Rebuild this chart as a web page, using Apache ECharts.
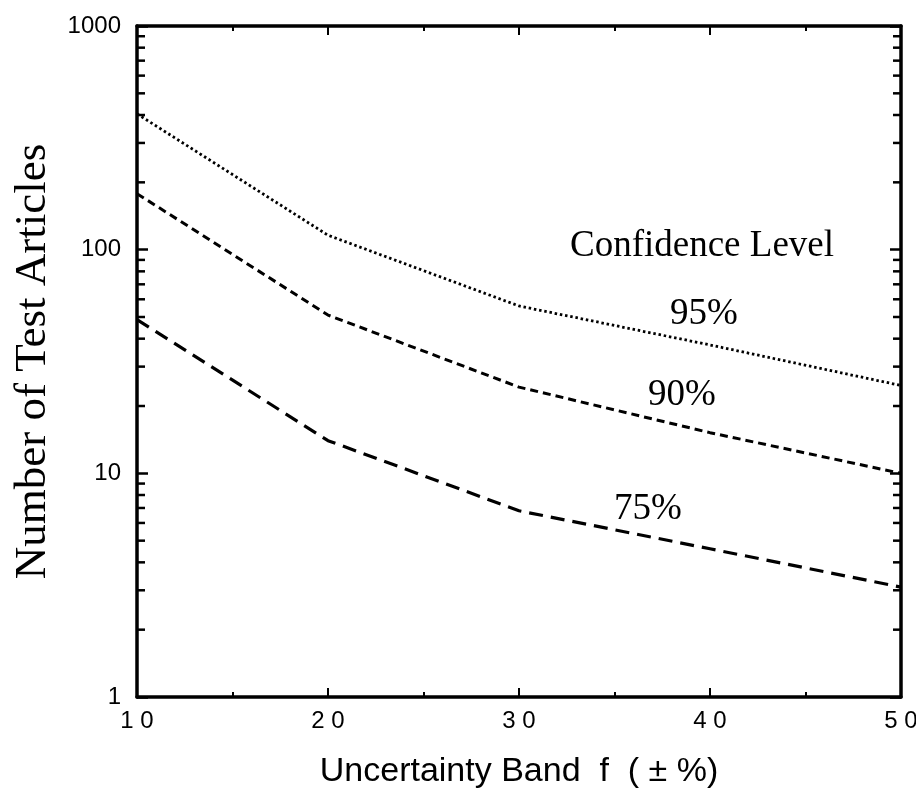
<!DOCTYPE html>
<html>
<head>
<meta charset="utf-8">
<script src="https://cdn.jsdelivr.net/npm/echarts@6/dist/echarts.min.js"></script>
<style>
  html, body { margin: 0; padding: 0; background: #fff; }
  #main { width: 916px; height: 793px; }
</style>
</head>
<body>
<div id="main"></div>
<script>
// x: uncertainty band f (± %)
const bandVals = [10, 20, 30, 40, 50];
// number of test articles per confidence level
const conf95 = [405, 116, 56, 37.5, 24.7];
const conf90 = [178, 51, 24.3, 15.2, 10];
const conf75 = [48.7, 14, 6.8, 4.6, 3.1];
// y axis log minor ticks
const yMinorTicks = [2, 3, 4, 5, 6, 7, 8, 9, 20, 30, 40, 50, 60, 70, 80, 90, 200, 300, 400, 500, 600, 700, 800, 900];

const sans = 'Liberation Sans';
const serif = 'Liberation Serif';

function pairs(ys) {
  return bandVals.map((x, i) => [x, ys[i]]);
}

const axisLineStyle = { color: '#000', width: 3.5 };

const myChart = echarts.init(document.getElementById('main'));
myChart.setOption({
  animation: false,
  backgroundColor: '#fff',
  grid: { left: 137, right: 15, top: 26, bottom: 96, outerBoundsMode: 'none', containLabel: false },
  xAxis: [
    {
      type: 'value',
      min: 10,
      max: 50,
      interval: 10,
      axisLine: { lineStyle: axisLineStyle },
      axisTick: { inside: true, length: 9, lineStyle: { color: '#000', width: 2 } },
      minorTick: { show: true, splitNumber: 2, length: 5, lineStyle: { color: '#000', width: 2 } },
      splitLine: { show: false },
      axisLabel: {
        margin: 12,
        color: '#000',
        fontFamily: sans,
        fontSize: 24,
        formatter: (v) => String(v).split('').join(' '),
      },
      name: 'Uncertainty Band  f  ( ± %)',
      nameLocation: 'middle',
      nameGap: 58,
      nameTextStyle: { color: '#000', fontFamily: sans, fontSize: 34 },
    },
    {
      type: 'value',
      position: 'top',
      min: 10,
      max: 50,
      interval: 10,
      axisLine: { lineStyle: axisLineStyle },
      axisTick: { inside: true, length: 9, lineStyle: { color: '#000', width: 2 } },
      minorTick: { show: true, splitNumber: 2, length: 5, lineStyle: { color: '#000', width: 2 } },
      splitLine: { show: false },
      axisLabel: { show: false },
    },
  ],
  yAxis: [
    {
      type: 'log',
      logBase: 10,
      min: 1,
      max: 1000,
      axisLine: { show: true, lineStyle: axisLineStyle },
      axisTick: { show: true, inside: true, length: 11, lineStyle: { color: '#000', width: 2.5 } },
      splitLine: { show: false },
      axisLabel: {
        margin: 16,
        color: '#000',
        fontFamily: sans,
        fontSize: 24,
        formatter: (v) => String(Math.round(v)),
      },
      name: 'Number of Test Articles',
      nameLocation: 'middle',
      nameGap: 81,
      nameTextStyle: { color: '#000', fontFamily: serif, fontSize: 45 },
    },
    {
      type: 'log',
      logBase: 10,
      min: 1,
      max: 1000,
      position: 'right',
      axisLine: { show: true, lineStyle: axisLineStyle },
      axisTick: { show: true, inside: true, length: 11, lineStyle: { color: '#000', width: 2.5 } },
      splitLine: { show: false },
      axisLabel: { show: false },
    },
  ],
  series: [
    {
      name: 'minor ticks',
      type: 'custom',
      silent: true,
      clip: false,
      data: yMinorTicks.map((v) => [10, v]),
      renderItem: function (params, api) {
        const l = api.coord([10, api.value(1)]);
        const r = api.coord([50, api.value(1)]);
        const st = { stroke: '#000', lineWidth: 2.5 };
        return {
          type: 'group',
          children: [
            { type: 'line', shape: { x1: l[0], y1: l[1], x2: l[0] + 8, y2: l[1] }, style: st },
            { type: 'line', shape: { x1: r[0] - 8, y1: r[1], x2: r[0], y2: r[1] }, style: st },
          ],
        };
      },
    },
    {
      name: '95%',
      type: 'line',
      data: pairs(conf95),
      symbol: 'none',
      lineStyle: { color: '#000', width: 2.8, type: [2.5, 2.8], cap: 'butt' },
    },
    {
      name: '90%',
      type: 'line',
      data: pairs(conf90),
      symbol: 'none',
      lineStyle: { color: '#000', width: 3, type: [8, 5] },
    },
    {
      name: '75%',
      type: 'line',
      data: pairs(conf75),
      symbol: 'none',
      lineStyle: { color: '#000', width: 3.2, type: [14, 8] },
    },
  ],
  graphic: [
    {
      type: 'text',
      left: 570,
      top: 228,
      style: { text: 'Confidence Level', fill: '#000', font: '37px "Liberation Serif"' },
    },
    {
      type: 'text',
      left: 670,
      top: 296,
      style: { text: '95%', fill: '#000', font: '37px "Liberation Serif"' },
    },
    {
      type: 'text',
      left: 648,
      top: 377,
      style: { text: '90%', fill: '#000', font: '37px "Liberation Serif"' },
    },
    {
      type: 'text',
      left: 614,
      top: 491,
      style: { text: '75%', fill: '#000', font: '37px "Liberation Serif"' },
    },
  ],
});
</script>
</body>
</html>
